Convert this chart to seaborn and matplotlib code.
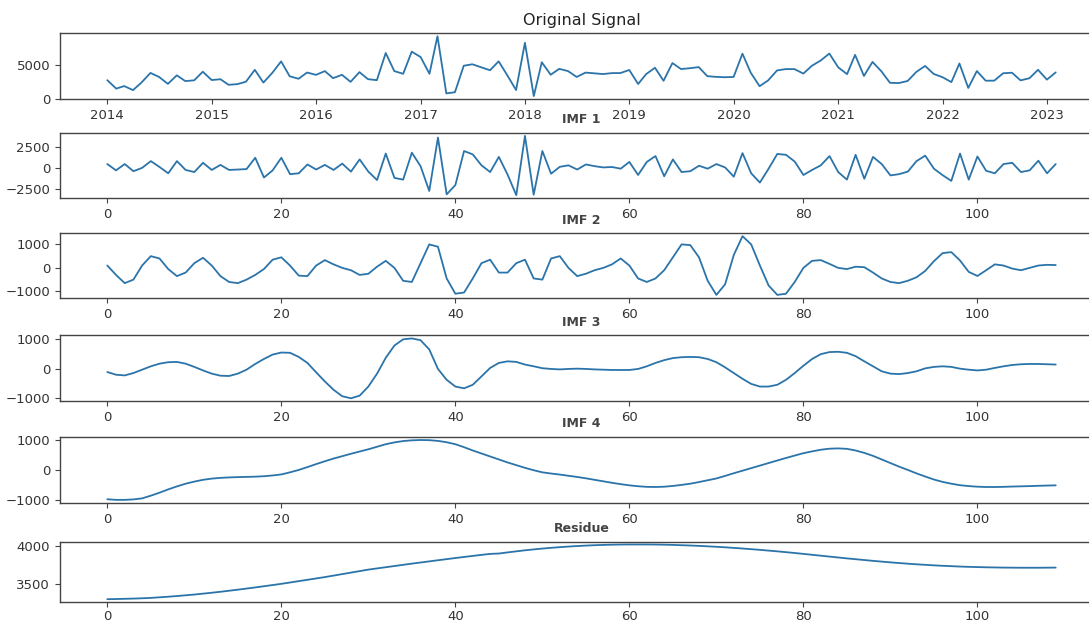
import numpy as np
import pandas as pd
import matplotlib
matplotlib.use("Agg")
import matplotlib.pyplot as plt
import matplotlib.dates as mdates
import seaborn as sns

# Monthly observations, Jan 2014 - Feb 2023
dates = pd.date_range("2014-01-01", periods=110, freq="MS")

original = [
    2750, 1490, 1870, 1270, 2420, 3830, 3230, 2200, 3470, 2610,
    2730, 4010, 2770, 2890, 2060, 2160, 2520, 4290, 2390, 3830,
    5550, 3330, 2960, 3890, 3540, 4100, 3050, 3550, 2500, 3950,
    2900, 2750, 6800, 4100, 3700, 7000, 6200, 3700, 9300, 780,
    950, 4900, 5120, 4670, 4230, 5560, 3430, 1280, 8320, 380,
    5420, 3560, 4440, 4100, 3230, 3880, 3770, 3660, 3800, 3810,
    4270, 2180, 3650, 4600, 2660, 5300, 4410, 4530, 4700, 3350,
    3240, 3190, 3230, 6700, 3860, 1850, 2720, 4200, 4400, 4400,
    3730, 4900, 5690, 6720, 4660, 3650, 6520, 3380, 5470, 4070,
    2360, 2320, 2630, 3970, 4870, 3680, 3190, 2460, 5240, 1590,
    4110, 2670, 2680, 3780, 3860, 2720, 3040, 4300, 2830, 3910,
]

imf1 = [
    450, -300, 450, -400, 0, 800, 100, -650, 800, -250,
    -500, 600, -250, 350, -250, -200, -150, 1200, -1150, -300,
    1200, -750, -650, 400, -200, 350, -250, 500, -450, 1000,
    -450, -1450, 1700, -1200, -1400, 1800, 200, -2750, 3600, -3150,
    -2050, 2000, 1600, 300, -500, 1300, -800, -3250, 3800, -3200,
    2000, -700, 120, 300, -200, 400, 200, 50, 100, -100,
    700, -850, 700, 1400, -1000, 1000, -500, -400, 250, -100,
    450, 50, -1050, 1750, -650, -1750, -100, 1650, 1550, 750,
    -850, -250, 300, 1400, -500, -1400, 1550, -1300, 1300, 450,
    -900, -750, -450, 800, 1450, -100, -870, -1550, 1700, -1400,
    1350, -350, -650, 450, 600, -500, -300, 850, -650, 450,
]

imf2 = [
    100, -300, -650, -500, 100, 500, 400, -50, -350, -200,
    200, 430, 100, -350, -600, -650, -500, -300, -50, 350,
    450, 100, -330, -350, 100, 330, 150, 0, -100, -300,
    -250, 50, 300, 0, -550, -600, 200, 1000, 900, -450,
    -1100, -1050, -450, 200, 350, -200, -200, 200, 350, -450,
    -500, 400, 500, 0, -350, -250, -100, 0, 150, 400,
    100, -450, -600, -450, -100, 450, 1000, 970, 450, -550,
    -1150, -700, 550, 1350, 1000, 100, -750, -1150, -1100, -600,
    0, 300, 330, 170, 0, -50, 50, 30, -200, -450,
    -600, -650, -550, -400, -130, 285, 630, 670, 315, -170,
    -345, -100, 150, 100, -30, -100, 0, 100, 130, 120,
]

imf3 = [
    -115, -207, -230, -150, -35, 80, 170, 220, 230, 170,
    60, -60, -170, -240, -250, -170, -35, 160, 330, 480,
    550, 540, 400, 195, -125, -435, -720, -940, -1010, -920,
    -610, -170, 370, 790, 1000, 1030, 970, 655, -10, -380,
    -610, -670, -550, -265, 25, 195, 250, 230, 140, 80,
    15, -10, -25, -10, 0, -10, -25, -35, -45, -45,
    -45, -10, 80, 195, 290, 360, 390, 400, 390, 330,
    220, 45, -150, -345, -520, -610, -610, -550, -380, -150,
    100, 330, 495, 565, 575, 540, 425, 250, 80, -90,
    -170, -185, -150, -90, 10, 60, 80, 60, 0, -35,
    -60, -35, 25, 80, 125, 150, 160, 160, 150, 140,
]

imf4 = [
    -980, -1000, -1000, -985, -950, -860, -760, -650, -550, -460,
    -390, -330, -290, -265, -250, -240, -232, -225, -210, -185,
    -150, -80, 0, 95, 195, 290, 380, 460, 540, 615,
    690, 775, 860, 920, 965, 990, 1000, 995, 970, 925,
    860, 760, 650, 550, 450, 350, 250, 160, 70, -10,
    -80, -120, -155, -195, -235, -280, -330, -380, -430, -475,
    -515, -545, -565, -570, -560, -535, -500, -460, -405, -345,
    -285, -200, -110, -25, 60, 145, 230, 315, 400, 480,
    560, 620, 675, 710, 720, 705, 650, 570, 470, 350,
    230, 110, 0, -115, -220, -320, -400, -460, -510, -540,
    -560, -570, -570, -565, -555, -548, -540, -530, -522, -515,
]

residue = [
    3295, 3297, 3300, 3303, 3307, 3312, 3320, 3328, 3337, 3347,
    3357, 3369, 3381, 3394, 3408, 3422, 3437, 3452, 3468, 3484,
    3500, 3518, 3536, 3554, 3572, 3590, 3610, 3630, 3650, 3670,
    3690, 3706, 3722, 3738, 3754, 3770, 3785, 3800, 3815, 3830,
    3845, 3859, 3873, 3887, 3900, 3905, 3920, 3934, 3948, 3960,
    3971, 3981, 3990, 3998, 4005, 4011, 4016, 4020, 4023, 4025,
    4026, 4026, 4026, 4025, 4023, 4020, 4016, 4012, 4007, 4001,
    3995, 3988, 3980, 3972, 3963, 3954, 3944, 3934, 3923, 3912,
    3900, 3888, 3876, 3864, 3852, 3840, 3829, 3818, 3807, 3797,
    3787, 3778, 3769, 3761, 3754, 3747, 3741, 3736, 3731, 3727,
    3724, 3721, 3719, 3717, 3716, 3715, 3715, 3715, 3716, 3717,
]

titles = ["Original Signal", "IMF 1", "IMF 2", "IMF 3", "IMF 4", "Residue"]
y_ticks = [
    [0, 5000],
    [-2500, 0, 2500],
    [-1000, 0, 1000],
    [-1000, 0, 1000],
    [-1000, 0, 1000],
    [3500, 4000],
]

sns.set_style("ticks")
plt.rcParams["font.family"] = ["DejaVu Sans"]
plt.rcParams["axes.edgecolor"] = "#444444"
plt.rcParams["xtick.color"] = "#444444"
plt.rcParams["ytick.color"] = "#444444"
plt.rcParams["xtick.labelcolor"] = "#333333"
plt.rcParams["ytick.labelcolor"] = "#333333"

line_color = "#2b74aa"
fig = plt.figure(figsize=(10.89, 6.27), dpi=100)

# panel rectangles: left, bottom, width, height (figure fraction)
left, width = 0.055, 0.958
panel_bottoms = [0.842, 0.684, 0.525, 0.360, 0.198, 0.040]
panel_heights = [0.105, 0.104, 0.103, 0.105, 0.105, 0.096]

index = np.arange(len(original))
series = [original, imf1, imf2, imf3, imf4, residue]

for k, (vals, title) in enumerate(zip(series, titles)):
    ax = fig.add_axes([left, panel_bottoms[k], width, panel_heights[k]])
    if k == 0:
        sns.lineplot(x=dates, y=vals, ax=ax, color=line_color, linewidth=1.3)
        ax.xaxis.set_major_locator(mdates.YearLocator())
        ax.xaxis.set_major_formatter(mdates.DateFormatter("%Y"))
        ax.set_title(title, fontsize=11.5, color="#222222", pad=6)
    else:
        sns.lineplot(x=index, y=vals, ax=ax, color=line_color, linewidth=1.3)
        ax.set_xticks([0, 20, 40, 60, 80, 100])
        ax.set_title(title, fontsize=9, fontweight="bold", color="#444444", pad=7)
    ax.set_yticks(y_ticks[k])
    ax.set_xlabel("")
    ax.set_ylabel("")
    ax.tick_params(labelsize=9.5, length=3.5, width=0.8)
    if k == len(series) - 1:
        ax.tick_params(axis="x", pad=2)
    for side in ax.spines.values():
        side.set_linewidth(1.0)

fig.savefig("out.png", dpi=100)
